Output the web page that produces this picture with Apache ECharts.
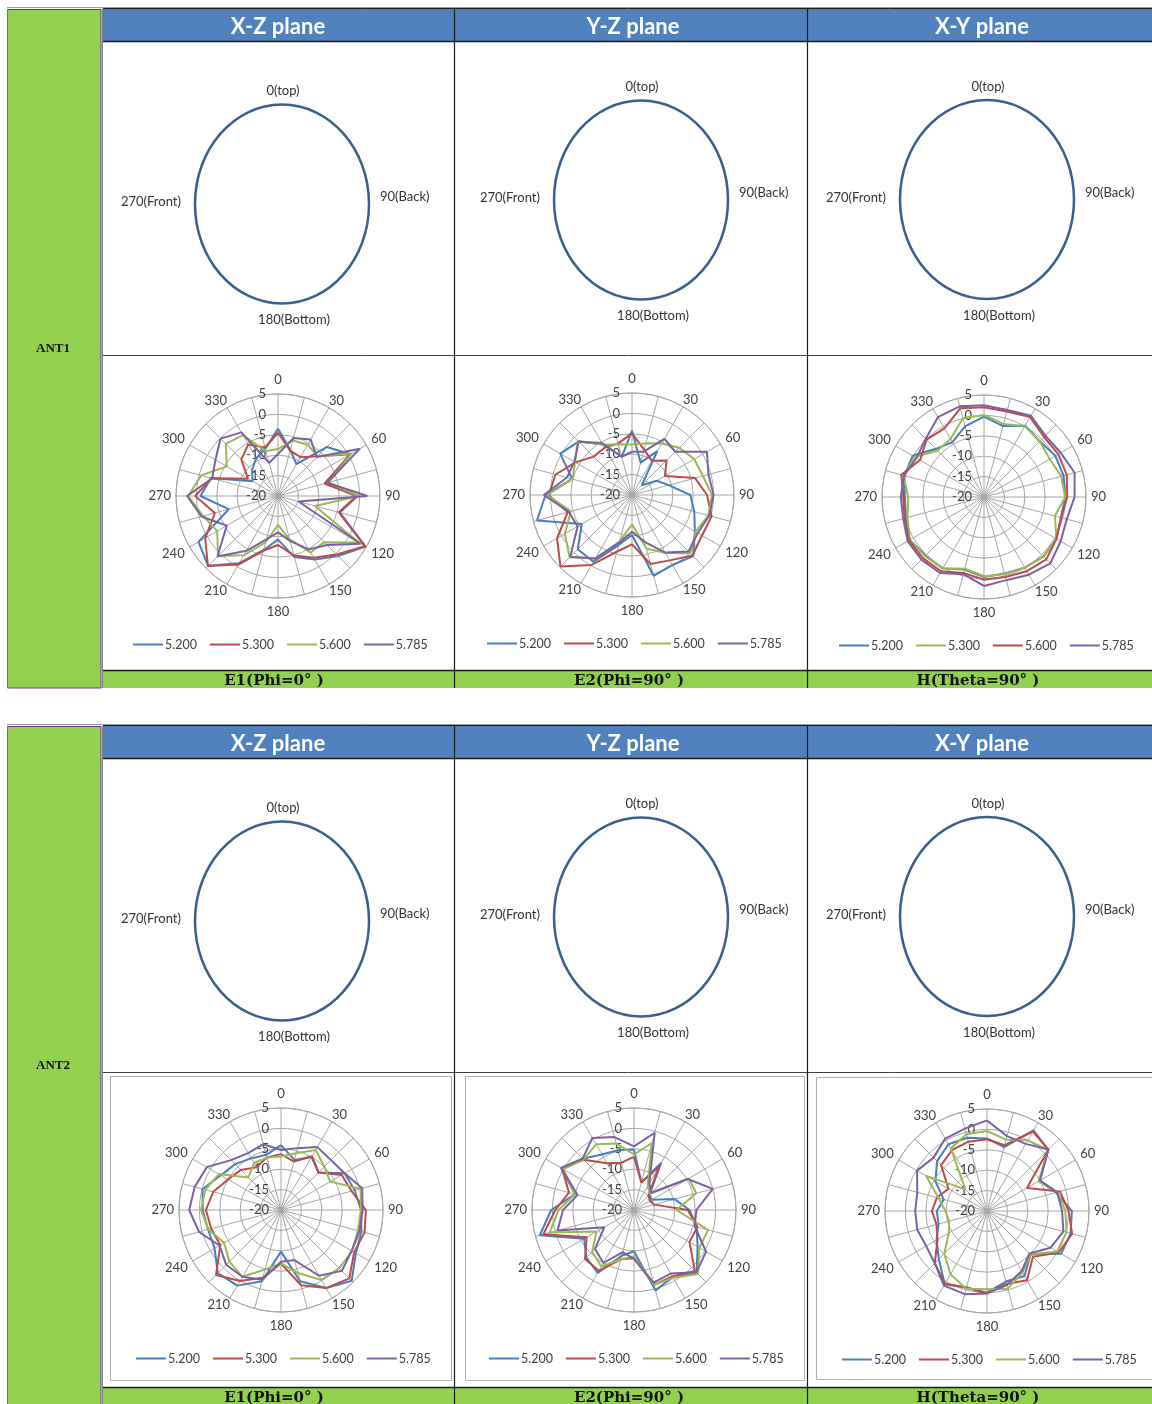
<!DOCTYPE html>
<html>
<head>
<meta charset="utf-8">
<title>ANT1 / ANT2 radiation patterns</title>
<script src="https://cdn.jsdelivr.net/npm/echarts@6/dist/echarts.min.js"></script>
<style>
  html, body { margin: 0; padding: 0; background: #ffffff; overflow: hidden; }
  #chart { width: 1152px; height: 1404px; }
</style>
</head>
<body>
<div id="chart"></div>
<script>
// Measurement angles (degrees, clockwise from top) and radial tick range (dB)
const angleDegrees = [0,15,30,45,60,75,90,105,120,135,150,165,180,195,210,225,240,255,270,285,300,315,330,345];
const angleStep = 15, angleLabelStep = 30;
const frequencies = ['5.200', '5.300', '5.600', '5.785'];
const radialMin = -20, radialMax = 5, radialStep = 5;

// ANT1 — X-Z plane, E1 (Phi=0°)
const ant1XZ_5200 = [-3.5,-8.3,-11,-3,0.5,-8,-0.5,-4.3,4.8,0.8,-2,-4.5,-9.3,-6.3,-1,4.2,2.5,-7.5,-1,-3,-12.8,-11,-9.3,-8];
const ant1XZ_5300 = [-4.5,-8.5,-9,-6.2,0.5,-8.2,-0.7,-4.6,4.6,0.3,-2.5,-4.9,-8,-6.1,-0.6,4.3,0.6,-4,0.3,-3.2,-11.5,-7.3,-5.4,-7.7];
const ant1XZ_5600 = [-8.5,-5.9,-5.5,-6.2,0.8,-7.2,-0.2,-10.6,2.8,-4,-4,-9,-12.9,-8.2,-3.2,0.8,-2.8,-1,2,-0.5,-5.5,-1.9,-2.8,-8.6];
const ant1XZ_5785 = [-9.7,-5.3,-4,-6.5,3.2,-7.5,1.9,-14.8,3.4,-3,-4.9,-8.6,-11.1,-9,-4.5,1,-5.5,-0.6,2.3,-3.3,-2.3,-0.1,-2,-11.6];

// ANT1 — Y-Z plane, E2 (Phi=90°)
const ant1YZ_5200 = [-4.2,-11.8,-7.6,-16.6,-13,-10.7,-5.7,-4.2,-2.2,1.2,-0.2,0.5,-10.2,-7.3,-1.1,-1.2,-5.8,4.1,1.2,-4.8,0.3,-1.5,-5.7,-10.3];
const ant1YZ_5300 = [-4.9,-8.5,-10.3,-8,-10.7,-4,-1.6,0.2,-0.2,1,-1.5,-2.5,-7.9,-5.6,-0.2,4.8,1.2,-3.7,0.4,-0.6,-4,-6.7,-6.6,-6.9];
const ant1YZ_5600 = [-7.6,-6.9,-5.4,-3.6,-2.4,-2,-0.4,-0.6,-2,0.2,-3.6,-6.4,-12.8,-8.2,-2,1.6,-1,-4.5,0.8,-4.9,-3.9,-1.2,-5.8,-7.1];
const ant1YZ_5785 = [-9.4,-9,-4.1,-5,1.2,-0.6,0,-0.4,-1.4,-0.4,-3.7,-8.1,-11,-7.9,-2,1.4,-4.6,-4,1.6,-3.5,-3.7,-1.5,-5.3,-10.3];

// ANT1 — X-Y plane, H (Theta=90°)
const ant1XY_5200 = [-0.3,-2,0.2,-0.7,0.2,0.2,-0.1,-0.5,0.5,0.6,0,-0.6,-0.4,-1.6,0.2,0.3,1,-0.2,-0.6,0.2,0.2,-3.3,-4.5,-2.1];
const ant1XY_5300 = [0.1,-1.5,0,-0.7,-1.4,-0.4,-0.1,-2,0.5,0.7,0,-0.4,-0.6,-1.8,0.2,0.5,1,-0.6,-1.4,0.4,-0.4,-3.9,-3.6,0];
const ant1XY_5600 = [2,1.7,2.6,0.8,1,1,0.4,-0.4,0.5,1.6,1,0.3,0.3,-0.7,1,1.2,1.2,0.2,-0.3,1,-1.9,-0.1,-0.6,2.5];
const ant1XY_5785 = [2.5,2.1,3,1.3,1.7,3,2.2,1,1.7,3,2,1.1,1.8,-0.4,1.5,1.7,1.6,0.5,0.4,0.3,-0.9,0.2,2.6,3];

// ANT2 — X-Z plane, E1 (Phi=0°)
const ant2XZ_5200 = [-4.1,-7.3,-5,-7,-2,-1.3,-0.4,0.4,1.2,4.5,2.1,-1.9,-9.8,-1.9,1.4,1.9,-1.2,-1.5,-0.8,-0.1,-3,-4.1,-5.4,-6];
const ant2XZ_5300 = [-6.3,-7.7,-4.8,-7,-2.8,-2.1,0.8,1.2,0.7,3.7,2.1,-0.9,-6.9,-2.8,0.1,2.5,-2.8,-2.3,-1.6,-2.8,-5,-6.1,-7.9,-6.7];
const ant2XZ_5600 = [-6.9,-5.6,-3,-5,-6.1,0.2,-0.4,-0.5,0.1,0.2,-0.2,-4,-6.9,-4.9,-1.1,-2.1,-3.9,-1.6,-0.4,-0.8,-2.4,-8.7,-6.7,-6.7];
const ant2XZ_5785 = [-5.3,-4.3,-2.2,-2.7,-2,0.6,0,-0.1,0,1.1,-1.4,-7.3,-7.3,-2.3,-1.1,-1,-2.6,0.8,2.5,1.9,1,-2.7,-3.9,-3.3];

// ANT2 — Y-Z plane, E2 (Phi=90°)
const ant2YZ_5200 = [-5.2,-13,-6.7,-14.6,-15,-9.7,-6.4,-4.1,-2,1.7,-1,0.4,-9.9,-8.4,-2.2,-3.5,-5.9,3.9,0.3,-5,0.6,-2.2,-4.3,-4.8];
const ant2YZ_5300 = [-7,-13,-7.6,-15,-15.5,-14.9,-6.8,-3.9,-4.3,1.1,-1.2,-1,-8.2,-7.5,-2.8,-3,-6.6,3,-0.7,-3.5,0.4,-2.6,-6.8,-8];
const ant2YZ_5600 = [-6.4,-3,-13.3,-14.4,-4.5,-4.2,-9.6,-1.2,-1.5,2.2,-0.8,-1,-8.6,-7.5,-4,-5.5,-9.4,1.4,-1.5,-5,0,-2.5,-1.4,-3.1];
const ant2YZ_5785 = [-4.4,-0.4,-12.5,-14,-4.8,0,-4.7,-4.6,0.4,1.6,-2,-1.6,-8,-9.3,-5,-6.5,-11.6,-0.6,-2.6,-5.7,0.6,-2.2,0.4,-1.5];

// ANT2 — X-Y plane, H (Theta=90°)
const ant2XY_5200 = [-2.2,-3.8,2.8,1.2,-5.2,-2.5,0.8,1.2,1,-4.9,-1.6,-2.1,0,-0.6,0.7,-3.3,-5.7,-7.7,-7.7,-9,-5.4,-2.7,-1.1,-1.4];
const ant2XY_5300 = [-2.4,-3.3,2.5,1.3,-8.7,-1.5,0,1.6,0.3,-4.1,-0.4,-1.5,0.2,-0.6,0.6,-1.9,-6,-7.2,-6.5,-7.3,-9.1,-4.1,-2.8,-2.4];
const ant2XY_5600 = [-0.4,-1.9,0,1.2,-5.4,-2.1,-0.8,0.2,-0.2,-4.9,-2.6,-0.3,-0.8,-0.3,-2.1,-5.2,-9.2,-10.4,-9.8,-7.7,-2.8,-12.5,-2.3,-0.5];
const ant2XY_5785 = [2.2,-1,-1,1.3,-5,-2.2,-1.6,-0.6,-2,-5.3,-3,-1.2,0.2,1.1,1.1,-1.9,-2.8,-2.3,-2.4,-2.3,-0.2,-1.5,0.5,0.9];

// Table text
const planeTitles = ['X-Z plane', 'Y-Z plane', 'X-Y plane'];
const footerTitles = ['E1(Phi=0° )', 'E2(Phi=90° )', 'H(Theta=90° )'];
const antennaNames = ['ANT1', 'ANT2'];
const orientationLabels = ['0(top)', '90(Back)', '180(Bottom)', '270(Front)'];

// Palette
const C_BLUE = '#4A7EBB', C_RED = '#BE4B48', C_GREEN = '#98B954', C_PURPLE = '#7D60A0';
const HEAD_BLUE = '#4F81BD', CELL_GREEN = '#92D050';
const SANS = 'Lato, "Open Sans", sans-serif';
const SERIF = '"Liberation Serif", "DejaVu Serif", serif';
const WIDE_SERIF = '"DejaVu Serif", "Liberation Serif", serif';

// Layout of the two blocks and three columns
const blockTops = [8, 725];
const colEdges = [103, 454.5, 807.5, 1152];
const colCenters = [276, 631, 980];
const ellipseCx = [282, 641, 987];
const ellipseDy = [196, 192, 191.5];

const charts = [
  { key: 'a1xz', cx: 278, cy: 496,  series: [ant1XZ_5200, ant1XZ_5300, ant1XZ_5600, ant1XZ_5785], colors: [C_BLUE, C_RED, C_GREEN, C_PURPLE] },
  { key: 'a1yz', cx: 632, cy: 495,  series: [ant1YZ_5200, ant1YZ_5300, ant1YZ_5600, ant1YZ_5785], colors: [C_BLUE, C_RED, C_GREEN, C_PURPLE] },
  { key: 'a1xy', cx: 984, cy: 497,  series: [ant1XY_5200, ant1XY_5300, ant1XY_5600, ant1XY_5785], colors: [C_BLUE, C_GREEN, C_RED, C_PURPLE] },
  { key: 'a2xz', cx: 281, cy: 1210, series: [ant2XZ_5200, ant2XZ_5300, ant2XZ_5600, ant2XZ_5785], colors: [C_BLUE, C_RED, C_GREEN, C_PURPLE] },
  { key: 'a2yz', cx: 634, cy: 1210, series: [ant2YZ_5200, ant2YZ_5300, ant2YZ_5600, ant2YZ_5785], colors: [C_BLUE, C_RED, C_GREEN, C_PURPLE] },
  { key: 'a2xy', cx: 987, cy: 1211, series: [ant2XY_5200, ant2XY_5300, ant2XY_5600, ant2XY_5785], colors: [C_BLUE, C_RED, C_GREEN, C_PURPLE] }
];
const RADIUS = 102;

// ---------- table drawn as graphic elements ----------
const graphic = [];
function rect(x, y, w, h, fill, stroke, lw) {
  graphic.push({ type: 'rect', silent: true, z: 0,
    shape: { x: x, y: y, width: w, height: h },
    style: { fill: fill || 'none', stroke: stroke || 'none', lineWidth: lw || 0 } });
}
function line(x1, y1, x2, y2, color, lw) {
  graphic.push({ type: 'line', silent: true, z: 1,
    shape: { x1: x1, y1: y1, x2: x2, y2: y2 },
    style: { stroke: color, lineWidth: lw } });
}
function text(str, x, y, size, color, family, weight, align) {
  graphic.push({ type: 'text', silent: true, z: 2, x: x, y: y,
    style: { text: str, fill: color, fontSize: size, fontFamily: family, fontWeight: weight || 'normal',
             align: align || 'center', verticalAlign: 'middle' } });
}

blockTops.forEach(function (T, b) {
  // sheet grid line above the block
  line(7, T - 0.5, 1152, T - 0.5, '#9a9a9a', 1);
  // antenna label column
  rect(7.5, T + 1.5, 93.5, 678.5, CELL_GREEN, '#7030A0', 1);
  line(7.5, T + 1.5, 7.5, T + 680, '#C0504D', 1);
  text(antennaNames[b], 53, T + 341, 13, '#111', SERIF, 'bold');
  // header band
  rect(103, T + 1, 1049, 32, HEAD_BLUE);
  line(103, T + 0.5, 1152, T + 0.5, '#1a1a1a', 1);
  line(103, T + 33.5, 1152, T + 33.5, '#1a1a1a', 1.5);
  // row separator and footer band
  line(103, T + 347.5, 1152, T + 347.5, '#404040', 1);
  rect(103, T + 662, 1049, 18, CELL_GREEN);
  line(103, T + 662.5, 1152, T + 662.5, '#1a1a1a', 1.5);
  // column borders
  line(102.5, T + 1, 102.5, T + 680, '#808080', 1);
  line(colEdges[1], T + 1, colEdges[1], T + 680, '#1a1a1a', 1.2);
  line(colEdges[2], T + 1, colEdges[2], T + 680, '#1a1a1a', 1.2);

  for (let c = 0; c < 3; c++) {
    text(planeTitles[c], colCenters[c] + 2, T + 18.5, 22, '#ffffff', SANS, 'bold');
    text(footerTitles[c], colCenters[c] - 2, T + 673.5, 15, '#111', WIDE_SERIF, 'bold');
    // orientation sketch: ellipse with direction labels
    const ex = ellipseCx[c], ey = T + ellipseDy[c];
    graphic.push({ type: 'ellipse', silent: true, z: 1,
      shape: { cx: ex, cy: ey, rx: 87, ry: 99.5 },
      style: { fill: 'none', stroke: '#3A5F8E', lineWidth: 2.5 } });
    text(orientationLabels[0], ex + 1, ey - 113, 13, '#333', SANS);
    text(orientationLabels[1], ex + 98, ey - 7, 13, '#333', SANS, 'normal', 'left');
    text(orientationLabels[2], ex + 12, ey + 116, 13, '#333', SANS);
    text(orientationLabels[3], ex - 101, ey - 2, 13, '#333', SANS, 'normal', 'right');
  }
});
// chart-area frames in the second block
rect(110.5, 1076.5, 341, 304, 'none', '#b0b0b0', 1);
rect(465.5, 1076.5, 339, 304, 'none', '#b0b0b0', 1);
rect(816.5, 1077.5, 340, 302, 'none', '#b0b0b0', 1);

// ---------- polar patterns ----------
// rich styles push the angle labels out by an amount that depends on their side
const labelFont = { fontSize: 13, color: '#404040', fontFamily: SANS };
const angleRich = {
  top: Object.assign({ padding: [0, 0, 8, 0] }, labelFont),
  bot: Object.assign({ padding: [7, 0, 0, 0] }, labelFont),
  rgt: Object.assign({ padding: [0, 0, 0, 5] }, labelFont),
  lft: Object.assign({ padding: [0, 5, 0, 0] }, labelFont),
  dia: Object.assign({}, labelFont)
};
function angleLabel(v) {
  if (v % angleLabelStep !== 0 || v >= 360) return '';
  let key = 'dia';
  if (v === 0) key = 'top';
  else if (v === 180) key = 'bot';
  else if (v >= 60 && v <= 120) key = 'rgt';
  else if (v >= 240 && v <= 300) key = 'lft';
  return '{' + key + '|' + v + '}';
}

const polar = [], angleAxis = [], radiusAxis = [], series = [], legend = [];
charts.forEach(function (ch, k) {
  polar.push({ center: [ch.cx, ch.cy], radius: RADIUS });
  angleAxis.push({
    polarIndex: k, type: 'value', min: 0, max: 360, interval: angleStep,
    startAngle: 90, clockwise: true, z: 1,
    axisLine: { show: true, lineStyle: { color: '#a6a6a6', width: 1 } },
    axisTick: { show: false },
    axisLabel: { margin: 0, fontSize: 13, color: '#404040', fontFamily: SANS, formatter: angleLabel, rich: angleRich },
    splitLine: { show: true, lineStyle: { color: '#a6a6a6', width: 1 } }
  });
  radiusAxis.push({
    polarIndex: k, type: 'value', min: radialMin, max: radialMax, interval: radialStep, z: 1,
    axisLine: { show: false }, axisTick: { show: false },
    axisLabel: { fontSize: 13, color: '#404040', fontFamily: SANS, margin: 12 },
    splitLine: { show: true, lineStyle: { color: '#a6a6a6', width: 1 } }
  });
  const names = [];
  ch.series.forEach(function (vals, i) {
    const name = ch.key + '|' + frequencies[i];
    names.push(name);
    const pts = vals.map(function (v, j) { return [v, angleDegrees[j]]; });
    pts.push([vals[0], 360]);
    series.push({
      type: 'line', name: name, coordinateSystem: 'polar', polarIndex: k,
      data: pts, showSymbol: false, symbol: 'none', smooth: false, z: 3,
      color: ch.colors[i], lineStyle: { color: ch.colors[i], width: 2 }
    });
  });
  legend.push({
    data: names, left: ch.cx - 145, top: ch.cy + 142, orient: 'horizontal', padding: 0,
    icon: 'rect', itemWidth: 30, itemHeight: 2, itemGap: 13, selectedMode: false,
    textStyle: { fontSize: 12.5, color: '#404040', fontFamily: SANS, padding: [0, 0, 0, -3] },
    formatter: function (n) { return n.split('|')[1]; }
  });
});

const chart = echarts.init(document.getElementById('chart'), null, { renderer: 'canvas' });
chart.setOption({
  animation: false,
  backgroundColor: '#ffffff',
  graphic: graphic,
  polar: polar,
  angleAxis: angleAxis,
  radiusAxis: radiusAxis,
  legend: legend,
  series: series
});
</script>
</body>
</html>
